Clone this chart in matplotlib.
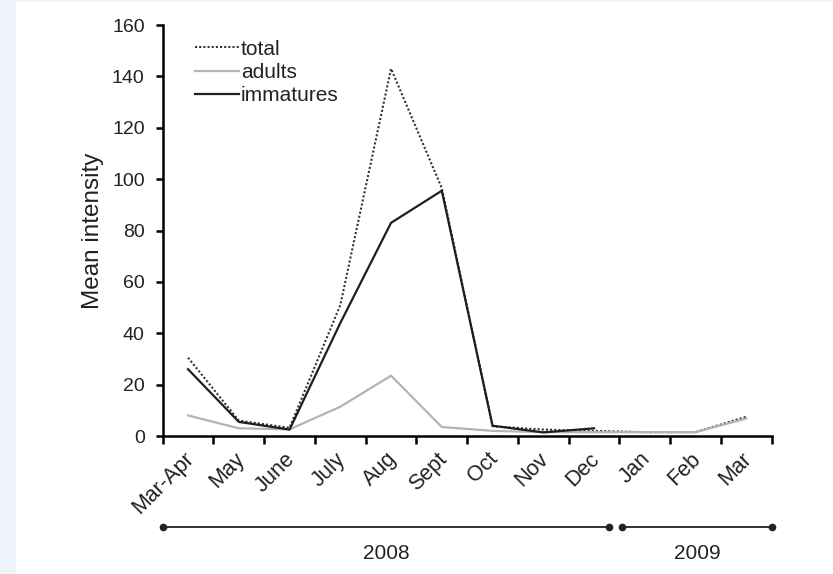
import numpy as np
import matplotlib.pyplot as plt
import matplotlib.transforms as mtransforms
from matplotlib.patches import Rectangle

plt.rcParams['font.family'] = ['Liberation Sans', 'DejaVu Sans']

months = ["Mar-Apr", "May", "June", "July", "Aug", "Sept", "Oct", "Nov", "Dec",
          "Jan", "Feb", "Mar"]
total = [30.5, 6.0, 3.2, 51.0, 143.0, 96.5, 3.8, 2.5, 2.0, 1.5, 1.5, 7.5]
adults = [8.0, 3.0, 2.6, 11.4, 23.5, 3.5, 2.0, 1.5, 1.5, 1.5, 1.5, 6.8]
immatures = [26.0, 5.5, 2.5, 44.0, 83.0, 95.5, 4.0, 1.4, 3.0]
years = ["2008", "2009"]

x = np.arange(len(months))

fig = plt.figure(figsize=(8.33, 5.74), dpi=100, facecolor="#eef3fb")
fig.patches.append(Rectangle((16 / 833, 0), 1, 1 - 2 / 574, transform=fig.transFigure,
                             facecolor="white", edgecolor="none", zorder=-10))
ax = fig.add_axes([0.1953, 0.2404, 0.7311, 0.716])
ax.set_facecolor("none")

txt = "#222222"
ax.plot(x, total, color="#333333", lw=1.5, ls=(0, (1, 1)), label="total")
ax.plot(x, adults, color="#b4b4b4", lw=1.6, label="adults")
ax.plot(x[:len(immatures)], immatures, color="#1e1e1e", lw=1.6, label="immatures")

ax.set_xlim(-0.5, len(months) - 0.5)
ax.set_ylim(0, 160)
ax.set_yticks(np.arange(0, 161, 20))
ax.set_ylabel("Mean intensity", fontsize=17.5, labelpad=6, color=txt)

# ticks between categories, labels at the centres
ax.set_xticks(x)
ax.set_xticks(np.arange(-0.5, len(months), 1), minor=True)
ax.tick_params(axis="x", which="major", length=0, pad=9, labelcolor=txt)
ax.tick_params(axis="x", which="minor", length=6, width=1.8, direction="out")
ax.tick_params(axis="y", length=5, width=1.8, labelsize=14, pad=8, labelcolor=txt)
ax.set_xticklabels(months, rotation=45, ha="right", rotation_mode="anchor", fontsize=15.5)
shift = mtransforms.ScaledTranslation(-0.05, 0, fig.dpi_scale_trans)
for lab in ax.get_xticklabels():
    lab.set_transform(lab.get_transform() + shift)

for side in ["top", "right"]:
    ax.spines[side].set_visible(False)
for side in ["left", "bottom"]:
    ax.spines[side].set_linewidth(1.8)
    ax.spines[side].set_color("black")

# year brackets below the axis
trans = mtransforms.blended_transform_factory(ax.transData, ax.transAxes)
spans = [(-0.5, 8.3), (8.55, 11.5)]
for (a, b), yr in zip(spans, years):
    ax.plot([a, b], [-0.221, -0.221], color=txt, lw=1.3, transform=trans,
            clip_on=False, marker="o", markersize=4.5, markevery=[0, 1])
    ax.text((a + b) / 2, -0.262, yr, transform=trans, ha="center", va="top",
            fontsize=15, color=txt)

leg = ax.legend(loc="upper left", bbox_to_anchor=(0.022, 1.01), frameon=False,
                fontsize=15, handlelength=2.1, handletextpad=0.1, labelspacing=0.2)
for t in leg.get_texts():
    t.set_color(txt)

fig.savefig("out.png", dpi=100, facecolor=fig.get_facecolor())
